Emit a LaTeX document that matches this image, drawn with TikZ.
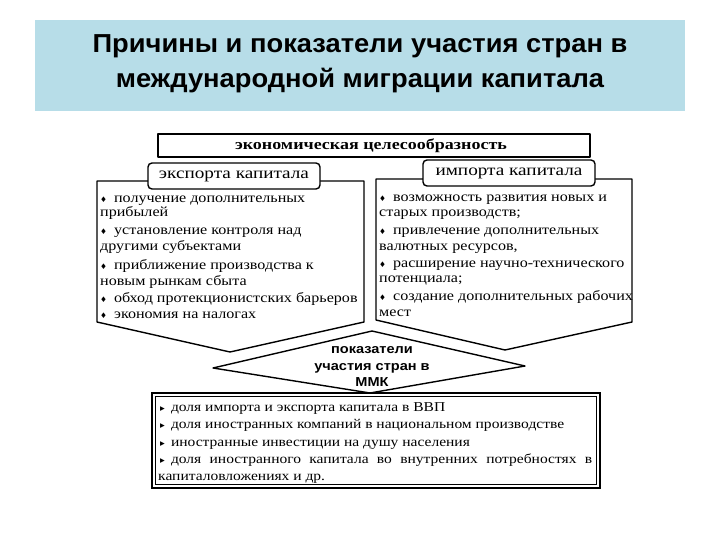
\documentclass[tikz,border=0pt]{standalone}
\usepackage{fontspec}
\setmainfont{Liberation Serif}
\newfontfamily\titlefont[FakeStretch=1.05]{Liberation Sans}
\newfontfamily\scanfont[FakeStretch=1.15]{Liberation Serif}
\newfontfamily\tabfont[FakeStretch=1.2]{Liberation Serif}
\newfontfamily\mmkfont[FakeStretch=1.12]{Liberation Sans}
\newfontfamily\symfont{DejaVu Sans}
\definecolor{titleblue}{RGB}{183,221,232}
\newcommand{\dbul}{{\symfont\scalebox{0.55}{♦}}\hspace{0.5em}}
\newcommand{\tbul}{{\symfont\scalebox{0.7}{▸}}\hspace{0.45em}}
\begin{document}
\begin{tikzpicture}[x=1pt,y=-1pt,
  box/.style={line width=1.4pt, fill=white, line join=round},
  tab/.style={draw, rounded corners=4pt, line width=1.4pt, fill=white, inner sep=0pt, font=\tabfont\fontsize{16}{18}\selectfont},
  ln/.style={anchor=base west, inner sep=0pt, font=\scanfont\fontsize{14}{16}\selectfont},
  lnb/.style={anchor=base west, inner sep=0pt, font=\scanfont\fontsize{13.5}{16}\selectfont},
]
\useasboundingbox (0,0) rectangle (720,540);
\fill[white] (0,0) rectangle (720,540);
% title band
\fill[titleblue] (35,20) rectangle (685,111);
\node[font=\titlefont\bfseries\fontsize{26}{35}\selectfont, align=center, inner sep=0pt] (title) at (360,64)
  {Причины и показатели участия стран в\\международной миграции капитала};

% top box
\draw[box] (158,134) rectangle (590,157);
\node[font=\tabfont\bfseries\fontsize{15}{17}\selectfont, inner sep=0pt] (econ) at (371,146) {экономическая целесообразность};

% left pentagon
\draw[box] (97,181) -- (364,181) -- (364,322) -- (230,352) -- (97,322) -- cycle;
\node[tab, minimum width=172pt, minimum height=26pt] (exptab) at (234,176) {экспорта капитала};
\node[ln] (e1) at (100,203) {\dbul получение дополнительных};
\node[ln] (e2) at (100,217) {прибылей};
\node[ln] (e3) at (100,234) {\dbul установление контроля над};
\node[ln] (e4) at (100,250) {другими субъектами};
\node[ln] (e5) at (100,269) {\dbul приближение производства к};
\node[ln] (e6) at (100,285) {новым рынкам сбыта};
\node[ln] (e7) at (100,302) {\dbul обход протекционистских барьеров};
\node[ln] (e8) at (100,318) {\dbul экономия на налогах};

% right pentagon
\draw[box] (376,179) -- (632,179) -- (632,322) -- (505,350) -- (376,320) -- cycle;
\node[tab, minimum width=172pt, minimum height=26pt] (imptab) at (509,173) {импорта капитала};
\node[ln] (i1) at (379,202) {\dbul возможность развития новых и};
\node[ln] (i2) at (379,217) {старых производств;};
\node[ln] (i3) at (379,234) {\dbul привлечение дополнительных};
\node[ln] (i4) at (379,250) {валютных ресурсов,};
\node[ln] (i5) at (379,267) {\dbul расширение научно-технического};
\node[ln] (i6) at (379,282) {потенциала;};
\node[ln] (i7) at (379,300) {\dbul создание дополнительных рабочих};
\node[ln] (i8) at (379,316) {мест};

% diamond
\draw[box] (213,368) -- (372,331) -- (525,366) -- (370,393) -- cycle;
\node[font=\mmkfont\bfseries\fontsize{13}{16.5}\selectfont, align=center, inner sep=0pt] (mmk) at (372,367)
  {показатели\\участия стран в\\ММК};

% bottom box
\draw[line width=1.6pt, fill=white] (152,393) rectangle (600,488);
\draw[line width=0.6pt] (155.5,396.5) rectangle (596.5,484.5);
\node[lnb] (b1) at (160,411) {\tbul доля импорта и экспорта капитала в ВВП};
\node[lnb] (b2) at (160,428) {\tbul доля иностранных компаний в национальном производстве};
\node[lnb] (b3) at (160,446) {\tbul иностранные инвестиции на душу населения};
\node[lnb] (b4) at (160,463) {\makebox[432pt][s]{\tbul доля иностранного капитала во внутренних потребностях в}};
\node[lnb] (b5) at (158,480) {капиталовложениях и др.};
\end{tikzpicture}
\end{document}
